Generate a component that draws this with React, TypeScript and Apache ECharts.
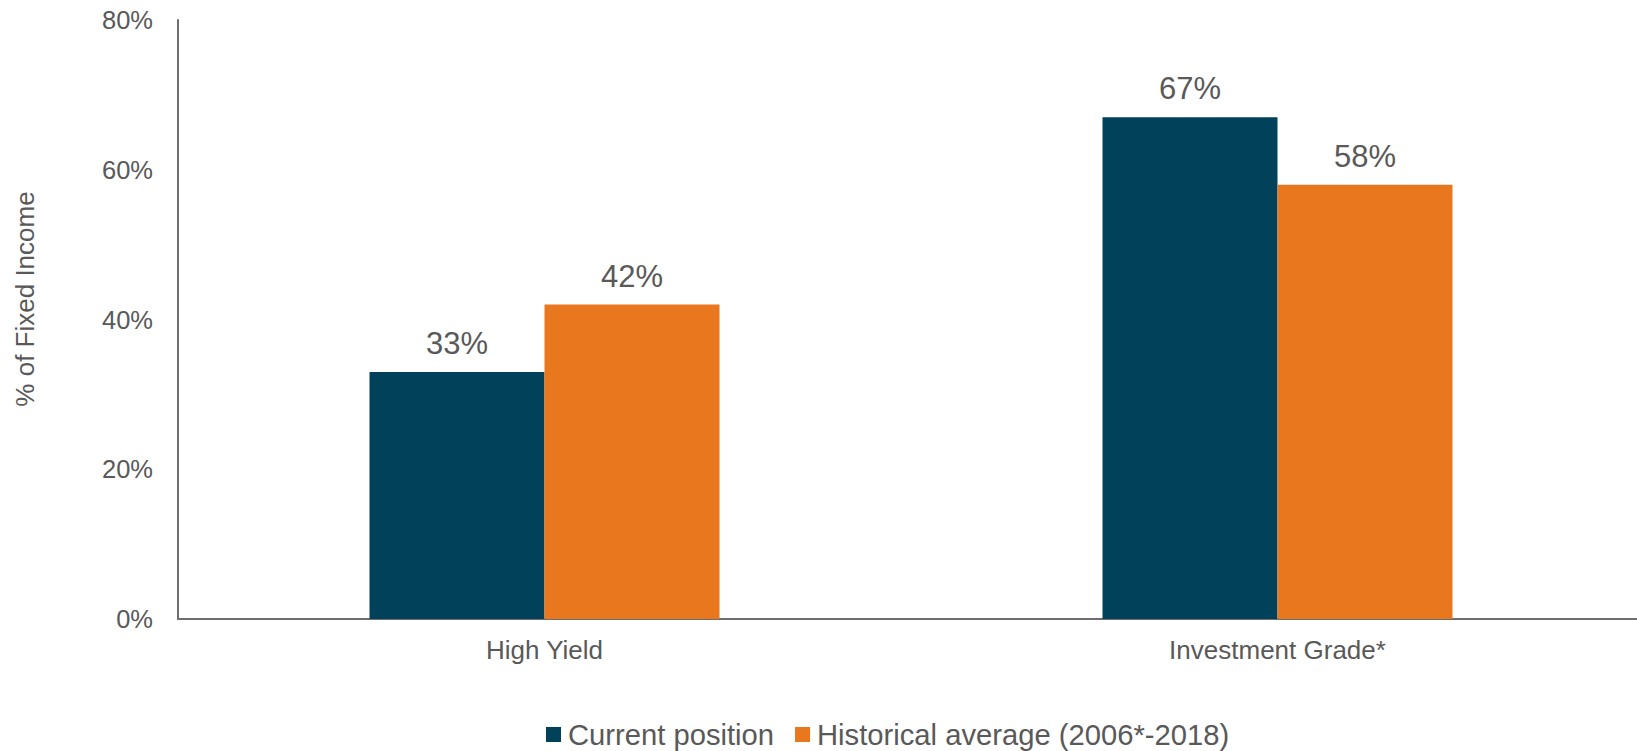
import React, { useEffect, useRef } from "react";
import * as echarts from "echarts";

const categories = ["High Yield", "Investment Grade*"];
const seriesNames = ["Current position", "Historical average (2006*-2018)"];
const currentValues = [33, 67];
const historicalValues = [42, 58];
const yTicks = { min: 0, max: 80, interval: 20 };
const axisTitle = "% of Fixed Income";

const FONT = "'Liberation Sans', Arial, sans-serif";
const TEXT = "#595959";
const BLUE = "#01425A";
const ORANGE = "#E9771E";

export default function App() {
  const ref = useRef<HTMLDivElement>(null);
  useEffect(() => {
    if (!ref.current) return;
    const chart = echarts.init(ref.current, undefined, { renderer: "svg" });
    const labelStyle = {
      show: true,
      position: "top" as const,
      distance: 13,
      fontSize: 31,
      color: TEXT,
      fontFamily: FONT,
      formatter: "{c}%",
    };
    chart.setOption({
      animation: false,
      backgroundColor: "#ffffff",
      textStyle: { fontFamily: FONT, color: TEXT },
      grid: { left: 178, top: 20, right: 0, bottom: 132, containLabel: false },
      legend: {
        left: 541,
        top: 715,
        itemWidth: 15,
        itemHeight: 15,
        itemGap: 21,
        icon: "rect",
        textStyle: { fontSize: 29.2, color: TEXT, fontFamily: FONT, padding: [0, 0, 0, 2] },
        data: seriesNames,
      },
      graphic: [
        {
          type: "text",
          x: 25,
          y: 299,
          rotation: Math.PI / 2,
          style: {
            text: axisTitle,
            fontSize: 26,
            fontFamily: FONT,
            fill: TEXT,
            align: "center",
            verticalAlign: "middle",
          },
        },
      ],
      xAxis: {
        type: "category",
        data: categories,
        axisLine: { show: true, lineStyle: { color: "#6e6e6e", width: 2 } },
        axisTick: { show: false },
        axisLabel: { fontSize: 26, color: TEXT, fontFamily: FONT, margin: 18 },
      },
      yAxis: {
        type: "value",
        min: yTicks.min,
        max: yTicks.max,
        interval: yTicks.interval,
        axisLine: { show: true, lineStyle: { color: "#6e6e6e", width: 2 } },
        axisTick: { show: false },
        splitLine: { show: false },
        axisLabel: {
          fontSize: 25.5,
          color: TEXT,
          fontFamily: FONT,
          margin: 25,
          formatter: "{value}%",
        },
      },
      series: [
        {
          name: seriesNames[0],
          type: "bar",
          data: currentValues,
          barWidth: 175,
          barGap: "0%",
          itemStyle: { color: BLUE },
          label: labelStyle,
        },
        {
          name: seriesNames[1],
          type: "bar",
          data: historicalValues,
          barWidth: 175,
          barGap: "0%",
          itemStyle: { color: ORANGE },
          label: labelStyle,
        },
      ],
    });
    return () => chart.dispose();
  }, []);
  return (
    <div
      ref={ref}
      style={{ position: "fixed", left: 0, top: 0, width: 1644, height: 751, background: "#fff" }}
    />
  );
}
